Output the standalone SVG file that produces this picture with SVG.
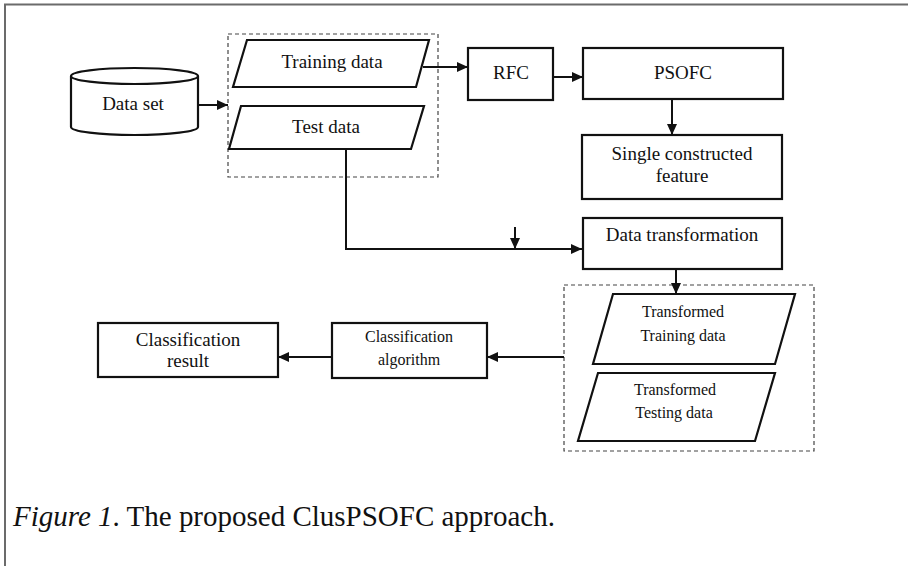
<svg xmlns="http://www.w3.org/2000/svg" width="908" height="566" viewBox="0 0 908 566">
<style>
.frame{fill:none;stroke:#6b6b6b;stroke-width:2}
.shape{fill:#fff;stroke:#111;stroke-width:2.2}
.dash{fill:none;stroke:#444;stroke-width:1.2;stroke-dasharray:4 3}
.conn{fill:none;stroke:#111;stroke-width:2}
text{font-family:"Liberation Serif","Times New Roman",serif;fill:#111;text-anchor:middle}
.t19{font-size:19px}
.t16{font-size:16px}
.cap{font-size:30px;text-anchor:start}
</style>
<defs>
<marker id="ah" markerWidth="11" markerHeight="10" refX="11" refY="5" orient="auto" markerUnits="userSpaceOnUse">
<path d="M0,0 L11,5 L0,10 Z" fill="#111"/>
</marker>
</defs>
<rect width="908" height="566" fill="#fff"/>
<path class="frame" d="M5,566 V4.5 H908"/>

<g id="group-split"><rect class="dash" x="228" y="34" width="210" height="143"/></g>
<g id="group-transformed"><rect class="dash" x="564" y="285" width="250" height="166"/></g>

<g id="dataset">
<path class="shape" d="M71,76 V127 A63.5,8 0 0 0 198,127 V76 A63.5,8 0 0 0 71,76 Z"/>
<path class="shape" d="M71,76 A63.5,8 0 0 0 198,76" fill="none"/>
<text class="t19" x="133" y="110">Data set</text>
</g>
<g id="training">
<polygon class="shape" points="247,40 429,40 416,87 233,87"/>
<text class="t19" x="332" y="68">Training data</text>
</g>
<g id="test">
<polygon class="shape" points="241,106 424,106 411,149 229,149"/>
<text class="t19" x="326" y="133">Test data</text>
</g>
<g id="rfc">
<rect class="shape" x="468" y="48" width="85" height="52"/>
<text class="t19" x="511" y="79">RFC</text>
</g>
<g id="psofc">
<rect class="shape" x="583" y="48" width="200" height="51"/>
<text class="t19" x="683" y="79">PSOFC</text>
</g>
<g id="single">
<rect class="shape" x="582" y="135" width="200" height="64"/>
<text class="t19" x="682" y="160">Single constructed</text>
<text class="t19" x="682" y="182">feature</text>
</g>
<g id="transform">
<rect class="shape" x="583" y="218" width="199" height="51"/>
<text class="t19" x="682" y="241">Data transformation</text>
</g>
<g id="ttrain">
<polygon class="shape" points="613,294 795,294 775,364 593,364"/>
<text class="t16" x="683" y="317">Transformed</text>
<text class="t16" x="683" y="341">Training data</text>
</g>
<g id="ttest">
<polygon class="shape" points="598,373 775,373 755,441 578,441"/>
<text class="t16" x="675" y="395">Transformed</text>
<text class="t16" x="674" y="418">Testing data</text>
</g>
<g id="algo">
<rect class="shape" x="332" y="323" width="155" height="55"/>
<text class="t16" x="409" y="342">Classification</text>
<text class="t16" x="409" y="365">algorithm</text>
</g>
<g id="result">
<rect class="shape" x="98" y="323" width="180" height="54"/>
<text class="t19" x="188" y="346">Classification</text>
<text class="t19" x="188" y="367">result</text>
</g>

<g id="connectors">
<path class="conn" d="M198,105 H228" marker-end="url(#ah)"/>
<path class="conn" d="M423,67 H468" marker-end="url(#ah)"/>
<path class="conn" d="M553,77 H583" marker-end="url(#ah)"/>
<path class="conn" d="M672,99 V135" marker-end="url(#ah)"/>
<path class="conn" d="M346,149 V249 H582" marker-end="url(#ah)"/>
<path class="conn" d="M515,227 V249" marker-end="url(#ah)"/>
<path class="conn" d="M676,269 V294" marker-end="url(#ah)"/>
<path class="conn" d="M564,357 H487" marker-end="url(#ah)"/>
<path class="conn" d="M332,357 H278" marker-end="url(#ah)"/>
</g>

<text class="cap" x="13" y="526" textLength="542" lengthAdjust="spacingAndGlyphs"><tspan font-style="italic">Figure 1</tspan>. The proposed ClusPSOFC approach.</text>
</svg>
